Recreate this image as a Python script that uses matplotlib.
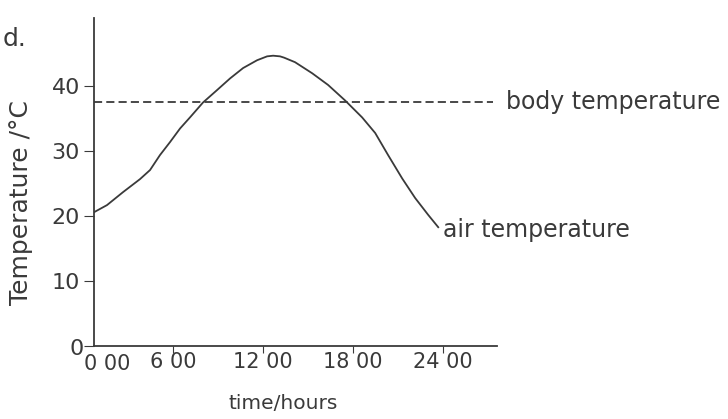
import numpy as np
import matplotlib
matplotlib.use('Agg')
from matplotlib import pyplot as plt

# air temperature curve (hours, deg C)
hours = [0.73, 1.6, 2.67, 3.8, 4.47, 5.13, 5.8, 6.47, 7.13, 8.0, 8.93, 9.8,
         10.67, 11.6, 12.27, 12.67, 13.13, 13.4, 14.13, 15.27, 16.33, 17.47,
         18.6, 19.47, 20.33, 21.27, 22.13, 23.0, 23.67]
air_temp = [20.6, 21.7, 23.7, 25.7, 27.1, 29.4, 31.4, 33.5, 35.2, 37.5, 39.4, 41.2,
            42.8, 44.0, 44.6, 44.7, 44.6, 44.4, 43.7, 42.0, 40.2, 37.8,
            35.2, 32.8, 29.4, 25.8, 22.8, 20.2, 18.3]
body_temp = 37.5
xticks = [6, 12, 18, 24]
xticklabels = ['6 00', '12 00', '18 00', '24 00']
yticks = [0, 10, 20, 30, 40]
yticklabels = ['', '10', '20', '30', '40']

col = '#3a3a3a'
plt.rcParams['font.family'] = ['DejaVu Sans']

fig = plt.figure(figsize=(7.28, 4.19), dpi=100)
ax = fig.add_axes([0.129, 0.174, 0.554, 0.783])

ax.plot(hours, air_temp, color=col, lw=1.3, solid_joinstyle='round')
ax.plot([0.73, 27.3], [body_temp, body_temp], color=col, lw=1.3, ls=(0, (4.5, 2.3)))

ax.set_xlim(0.73, 27.6)
ax.set_ylim(0, 50.5)
ax.spines['top'].set_visible(False)
ax.spines['right'].set_visible(False)
for s in ['left', 'bottom']:
    ax.spines[s].set_color(col)
    ax.spines[s].set_linewidth(1.3)

ax.set_xticks(xticks)
ax.set_xticklabels(xticklabels)
ax.set_yticks(yticks)
ax.set_yticklabels(yticklabels)
ax.tick_params(axis='x', direction='out', length=5, pad=-1, labelsize=15, colors=col)
ax.tick_params(axis='y', direction='out', length=7, pad=3, labelsize=16, colors=col)

# the origin labels sit off the ticks in the original
ax.text(-0.025, -0.01, '0', transform=ax.transAxes, ha='right', va='center',
        fontsize=16, color=col)
ax.text(0.032, -0.025, '0 00', transform=ax.transAxes, ha='center', va='top',
        fontsize=15, color=col)

ax.set_xlabel('time/hours', fontsize=14.5, color=col)
ax.xaxis.set_label_coords(0.469, -0.145)
ax.set_ylabel('Temperature /\u00b0C', fontsize=18, color=col)
ax.yaxis.set_label_coords(-0.152, 0.436)

ax.text(28.2, body_temp, 'body temperature', ha='left', va='center',
        fontsize=17, color=col)
ax.text(24.0, 17.8, 'air temperature', ha='left', va='center',
        fontsize=17, color=col)

fig.text(0.003, 0.935, 'd.', ha='left', va='top', fontsize=18, color=col)

fig.savefig('out.png', dpi=100)
